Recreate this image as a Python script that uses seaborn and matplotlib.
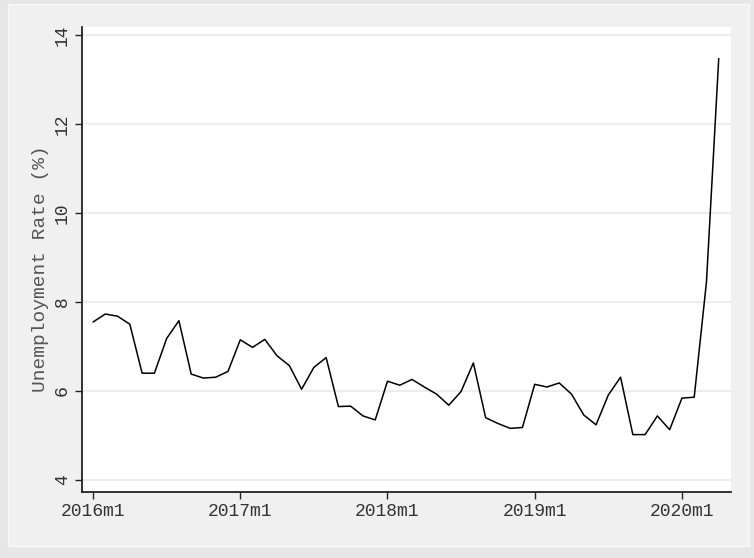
import numpy as np
import pandas as pd
import matplotlib
matplotlib.use("Agg")
import matplotlib.pyplot as plt
import seaborn as sns
from matplotlib.patches import Rectangle

# monthly unemployment rate, 2016m1 .. 2020m4
rate_2016 = [7.55, 7.73, 7.68, 7.50, 6.40, 6.40, 7.18, 7.58, 6.38, 6.29, 6.31, 6.44]
rate_2017 = [7.15, 6.98, 7.16, 6.79, 6.57, 6.04, 6.53, 6.75, 5.65, 5.66, 5.44, 5.35]
rate_2018 = [6.22, 6.13, 6.26, 6.09, 5.93, 5.68, 5.99, 6.63, 5.40, 5.27, 5.16, 5.18]
rate_2019 = [6.15, 6.09, 6.18, 5.93, 5.46, 5.24, 5.91, 6.31, 5.02, 5.02, 5.44, 5.13]
rate_2020 = [5.84, 5.86, 8.45, 13.47]

x_tick_labels = ['2016m1', '2017m1', '2018m1', '2019m1', '2020m1']
y_ticks = [4, 6, 8, 10, 12, 14]

rate = rate_2016 + rate_2017 + rate_2018 + rate_2019 + rate_2020
df = pd.DataFrame({'month': np.arange(len(rate)), 'rate': rate})

sns.set_style("white")
plt.rcParams['font.family'] = ['Liberation Mono', 'DejaVu Sans Mono']

W, H = 754, 558
fig = plt.figure(figsize=(W / 100, H / 100), dpi=100)
fig.patch.set_facecolor('#e6e6e6')
fig.patches.append(Rectangle((8 / W, 1 - 546 / H), 741 / W, 542 / H,
                             transform=fig.transFigure, facecolor='#f0f0f0',
                             edgecolor='#f8f8f8', linewidth=1, zorder=-5))

ax = fig.add_axes([82 / W, 1 - 492 / H, (731 - 82) / W, (492 - 27) / H])
ax.set_zorder(2)
ax.set_facecolor('white')

sns.lineplot(data=df, x='month', y='rate', color='black', linewidth=1.1, ax=ax)

ax.set_xlim(-0.9, 52.0)
ax.set_ylim(3.73, 14.18)
ax.set_xticks([0, 12, 24, 36, 48])
ax.set_xticklabels(x_tick_labels)
ax.set_yticks(y_ticks)
ax.set_yticklabels([str(v) for v in y_ticks], rotation=90, va='center')
ax.grid(axis='y', color='#eaeaea', linewidth=1.2)
ax.set_axisbelow(True)

ax.set_xlabel('')
ax.set_ylabel('Unemployment Rate (%)', fontsize=14, color='#555555')
ax.yaxis.set_label_coords(-0.051, 0.48)
ax.tick_params(axis='both', direction='out', length=5, width=1, color='#222222',
               labelsize=13, labelcolor='#333333', pad=3)
ax.tick_params(axis='x', bottom=True)
ax.tick_params(axis='y', left=True)

for side in ['top', 'right']:
    ax.spines[side].set_visible(False)
for side in ['left', 'bottom']:
    ax.spines[side].set_color('#222222')
    ax.spines[side].set_linewidth(1.3)

fig.savefig('out.png', dpi=100, facecolor=fig.get_facecolor())
